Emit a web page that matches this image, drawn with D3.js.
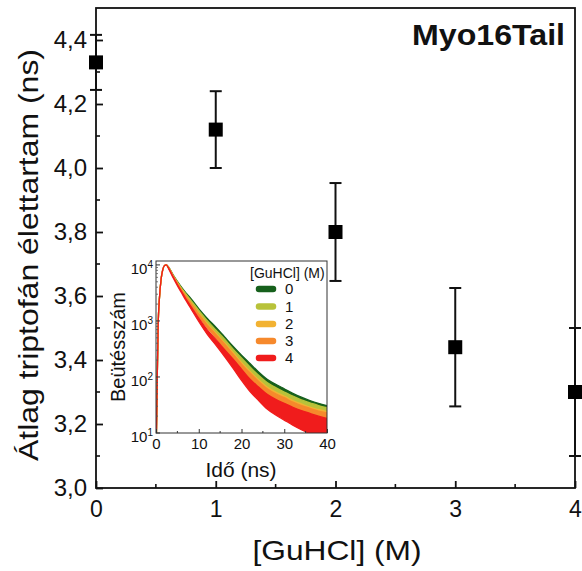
<!DOCTYPE html>
<html>
<head>
<meta charset="utf-8">
<script src="https://cdn.jsdelivr.net/npm/d3@7"></script>
<style>
  html, body { margin: 0; padding: 0; background: #ffffff; }
  svg { display: block; }
  text { font-family: "Liberation Sans", Arial, Helvetica, sans-serif; fill: #111; }
</style>
</head>
<body>
<div id="chart"></div>
<script>
// ---------------- Main chart data ----------------
const guhclConc = [0, 1, 2, 3, 4];                  // [GuHCl] (M)
const avgLifetime = [4.33, 4.12, 3.80, 3.44, 3.30]; // ns
const lifetimeErr = [0.086, 0.12, 0.153, 0.185, 0.20];
const yTickValues = [3.0, 3.2, 3.4, 3.6, 3.8, 4.0, 4.2, 4.4];
const yMinorTicks = [3.1, 3.3, 3.5, 3.7, 3.9, 4.1, 4.3];
const xTickValues = [0, 1, 2, 3, 4];
const xMinorTicks = [0.5, 1.5, 2.5, 3.5];

// ---------------- Inset data (log10 counts) ----------------
const decayTime = [0.1, 0.3, 0.5, 0.8, 1.2, 1.6, 2.0, 2.4, 3, 4, 5, 6, 7, 8, 10, 12, 14, 16, 18, 20, 22, 24, 26, 28, 30, 32, 34, 36, 38, 40];
const logCounts0 = [1.0, 2.0, 2.9, 3.4, 3.75, 3.92, 3.99, 4.0, 3.95, 3.82, 3.70, 3.59, 3.49, 3.40, 3.20, 3.02, 2.86, 2.68, 2.50, 2.33, 2.17, 2.01, 1.87, 1.77, 1.68, 1.59, 1.51, 1.44, 1.38, 1.33];
const logCounts1 = [1.0, 2.0, 2.9, 3.4, 3.75, 3.92, 3.99, 4.0, 3.95, 3.81, 3.69, 3.57, 3.47, 3.37, 3.17, 2.98, 2.81, 2.64, 2.45, 2.28, 2.11, 1.95, 1.81, 1.71, 1.62, 1.54, 1.46, 1.40, 1.34, 1.29];
const logCounts2 = [1.0, 2.0, 2.9, 3.4, 3.75, 3.92, 3.99, 4.0, 3.94, 3.80, 3.67, 3.55, 3.44, 3.33, 3.12, 2.92, 2.75, 2.57, 2.39, 2.20, 2.03, 1.87, 1.73, 1.63, 1.55, 1.46, 1.39, 1.32, 1.27, 1.22];
const logCounts3 = [1.0, 2.0, 2.9, 3.4, 3.75, 3.92, 3.99, 4.0, 3.94, 3.80, 3.67, 3.54, 3.43, 3.32, 3.10, 2.90, 2.73, 2.55, 2.36, 2.17, 2.00, 1.84, 1.70, 1.60, 1.52, 1.43, 1.36, 1.30, 1.24, 1.20];
const logCounts4 = [1.0, 2.0, 2.9, 3.4, 3.75, 3.92, 3.99, 4.0, 3.93, 3.78, 3.64, 3.51, 3.38, 3.26, 3.02, 2.80, 2.62, 2.43, 2.24, 2.04, 1.85, 1.70, 1.56, 1.46, 1.38, 1.30, 1.23, 1.17, 1.12, 1.08];
// visible noise half-width of each trace (decades)
const noiseHalf    = [0, 0, 0, 0, 0, 0, 0, 0, 0.005, 0.005, 0.008, 0.01, 0.012, 0.015, 0.02, 0.025, 0.03, 0.04, 0.05, 0.06, 0.07, 0.08, 0.09, 0.10, 0.11, 0.12, 0.13, 0.14, 0.15, 0.16];
const noiseHalfRed = [0, 0, 0, 0, 0, 0, 0, 0, 0.005, 0.008, 0.01, 0.012, 0.015, 0.02, 0.03, 0.04, 0.05, 0.06, 0.08, 0.10, 0.11, 0.12, 0.13, 0.14, 0.15, 0.16, 0.17, 0.18, 0.18, 0.18];
const seriesLabels = ["0", "1", "2", "3", "4"];
const seriesColors = ["#16601c", "#b8c23a", "#f2b232", "#f6892c", "#f01c1c"];
const insetXTicks = [0, 10, 20, 30, 40];
const insetXMinor = [5, 15, 25, 35];
const insetYDecades = [1, 2, 3, 4];

const W = 582, H = 571;
const svg = d3.select("#chart").append("svg").attr("width", W).attr("height", H);
svg.append("rect").attr("width", W).attr("height", H).attr("fill", "#fff");

// ---------------- Main scales ----------------
const x = d3.scaleLinear().domain([0, 4]).range([96, 575]);
const y = d3.scaleLinear().domain([3.0, 4.5]).range([488, 8]);
const fmtComma = v => d3.format(".1f")(v).replace(".", ",");

// frame
svg.append("rect").attr("x", 96).attr("y", 8).attr("width", 479).attr("height", 480)
  .attr("fill", "none").attr("stroke", "#111").attr("stroke-width", 1.8);

// y axis
const yAxis = d3.axisLeft(y).tickValues(yTickValues).tickFormat(fmtComma)
  .tickSizeInner(-7).tickSizeOuter(0).tickPadding(9);
const gy = svg.append("g").attr("transform", "translate(96,0)").call(yAxis);
gy.select(".domain").remove();
gy.selectAll(".tick line").attr("stroke", "#111").attr("stroke-width", 1.8);
gy.selectAll(".tick text").attr("font-size", 24).attr("fill", "#111")
  .style("font-family", '"Liberation Sans", Arial, sans-serif');
svg.append("g").selectAll("line").data(yMinorTicks).join("line")
  .attr("x1", 96).attr("x2", 100).attr("y1", d => y(d)).attr("y2", d => y(d))
  .attr("stroke", "#111").attr("stroke-width", 1.6);

// x axis
const xAxis = d3.axisBottom(x).tickValues(xTickValues).tickFormat(d3.format("d"))
  .tickSizeInner(-7).tickSizeOuter(0).tickPadding(13);
const gx = svg.append("g").attr("transform", "translate(0,488)").call(xAxis);
gx.select(".domain").remove();
gx.selectAll(".tick line").attr("stroke", "#111").attr("stroke-width", 1.8);
gx.selectAll(".tick text").attr("font-size", 23).attr("fill", "#111")
  .style("font-family", '"Liberation Sans", Arial, sans-serif');
svg.append("g").selectAll("line").data(xMinorTicks).join("line")
  .attr("x1", d => x(d)).attr("x2", d => x(d)).attr("y1", 488).attr("y2", 484)
  .attr("stroke", "#111").attr("stroke-width", 1.6);

// axis titles
svg.append("text").attr("x", 337).attr("y", 560).attr("text-anchor", "middle")
  .attr("font-size", 28).attr("textLength", 169).attr("lengthAdjust", "spacingAndGlyphs")
  .text("[GuHCl] (M)");
svg.append("text").attr("transform", "translate(38,255) rotate(-90)").attr("text-anchor", "middle")
  .attr("font-size", 28).attr("textLength", 412).attr("lengthAdjust", "spacingAndGlyphs")
  .text("Átlag triptofán élettartam (ns)");
svg.append("text").attr("x", 565).attr("y", 45).attr("text-anchor", "end")
  .attr("font-size", 30).attr("font-weight", "bold").attr("textLength", 153).attr("lengthAdjust", "spacingAndGlyphs")
  .text("Myo16Tail");

// ---------------- Inset ----------------
const ix = d3.scaleLinear().domain([0, 40]).range([156, 327]);
const iy = d3.scaleLog().domain([10, Math.pow(10, 4.07)]).range([433, 261]);

const inset = svg.append("g");
inset.append("rect").attr("x", 156).attr("y", 261).attr("width", 171).attr("height", 172).attr("fill", "#fff");
const defs = svg.append("defs");
defs.append("clipPath").attr("id", "insetClip").append("rect")
  .attr("x", 156).attr("y", 261).attr("width", 171).attr("height", 172);

const allSeries = [logCounts0, logCounts1, logCounts2, logCounts3, logCounts4];
const plotG = inset.append("g").attr("clip-path", "url(#insetClip)");
allSeries.forEach((s, si) => {
  const nz = si === 4 ? noiseHalfRed : noiseHalf;
  const pts = decayTime.map((t, i) => ({ t, lo: s[i] - nz[i], hi: s[i] + nz[i], mid: s[i] }));
  const area = d3.area().x(d => ix(d.t))
    .y0(d => iy(Math.pow(10, Math.max(0.9, d.lo))))
    .y1(d => iy(Math.pow(10, d.hi)))
    .curve(d3.curveMonotoneX);
  plotG.append("path").datum(pts).attr("d", area)
    .attr("fill", seriesColors[si]).attr("stroke", seriesColors[si]).attr("stroke-width", 1.3)
    .attr("stroke-linejoin", "round");
});

// inset frame
inset.append("rect").attr("x", 156).attr("y", 261).attr("width", 171).attr("height", 172)
  .attr("fill", "none").attr("stroke", "#333").attr("stroke-width", 1);

// inset x axis
const ixAxis = d3.axisBottom(ix).tickValues(insetXTicks).tickFormat(d3.format("d"))
  .tickSizeInner(-4).tickSizeOuter(0).tickPadding(5.5);
const gix = inset.append("g").attr("transform", "translate(0,433)").call(ixAxis);
gix.select(".domain").remove();
gix.selectAll(".tick line").attr("stroke", "#333");
gix.selectAll(".tick text").attr("font-size", 15).attr("fill", "#111")
  .style("font-family", '"Liberation Sans", Arial, sans-serif');
inset.append("g").selectAll("line").data(insetXMinor).join("line")
  .attr("x1", d => ix(d)).attr("x2", d => ix(d)).attr("y1", 433).attr("y2", 431)
  .attr("stroke", "#333");

// inset y axis (log)
inset.append("g").selectAll("line").data(insetYDecades).join("line")
  .attr("x1", 156).attr("x2", 160).attr("y1", d => iy(Math.pow(10, d))).attr("y2", d => iy(Math.pow(10, d)))
  .attr("stroke", "#333");
const minorLog = [];
[1, 2, 3].forEach(dec => [2, 3, 4, 5, 6, 7, 8, 9].forEach(m => minorLog.push(m * Math.pow(10, dec))));
inset.append("g").selectAll("line").data(minorLog).join("line")
  .attr("x1", 156).attr("x2", 158).attr("y1", d => iy(d)).attr("y2", d => iy(d))
  .attr("stroke", "#555").attr("stroke-width", 0.8);
const ylab = inset.append("g").selectAll("text").data(insetYDecades).join("text")
  .attr("x", 153).attr("y", d => iy(Math.pow(10, d)) + 9).attr("text-anchor", "end")
  .attr("font-size", 15);
ylab.append("tspan").text("10");
ylab.append("tspan").attr("font-size", 10).attr("dy", -6).text(d => d);

// inset titles
inset.append("text").attr("x", 241).attr("y", 477).attr("text-anchor", "middle")
  .attr("font-size", 21).text("Idő (ns)");
inset.append("text").attr("transform", "translate(125,347) rotate(-90)").attr("text-anchor", "middle")
  .attr("font-size", 20).text("Beütésszám");

// inset legend
inset.append("text").attr("x", 250).attr("y", 278).attr("font-size", 14).text("[GuHCl] (M)");
const legY = [289, 306.5, 324, 341, 358];
const leg = inset.append("g").selectAll("g").data(seriesLabels).join("g");
leg.append("line").attr("x1", 259).attr("x2", 273)
  .attr("y1", (d, i) => legY[i]).attr("y2", (d, i) => legY[i])
  .attr("stroke", (d, i) => seriesColors[i]).attr("stroke-width", 6.5).attr("stroke-linecap", "round");
leg.append("text").attr("x", 285).attr("y", (d, i) => legY[i] + 5.3).attr("font-size", 15).text(d => d);

// ---------------- Main data marks ----------------
const pts = guhclConc.map((c, i) => ({ c, v: avgLifetime[i], e: lifetimeErr[i] }));
const eb = svg.append("g").selectAll("g").data(pts).join("g");
eb.append("line").attr("x1", d => x(d.c)).attr("x2", d => x(d.c))
  .attr("y1", d => y(d.v + d.e)).attr("y2", d => y(d.v - d.e))
  .attr("stroke", "#111").attr("stroke-width", 2);
eb.append("line").attr("x1", d => x(d.c) - 6).attr("x2", d => x(d.c) + 6)
  .attr("y1", d => y(d.v + d.e)).attr("y2", d => y(d.v + d.e))
  .attr("stroke", "#111").attr("stroke-width", 2);
eb.append("line").attr("x1", d => x(d.c) - 6).attr("x2", d => x(d.c) + 6)
  .attr("y1", d => y(d.v - d.e)).attr("y2", d => y(d.v - d.e))
  .attr("stroke", "#111").attr("stroke-width", 2);
svg.append("g").selectAll("rect").data(pts).join("rect")
  .attr("x", d => x(d.c) - 7).attr("y", d => y(d.v) - 7)
  .attr("width", 14).attr("height", 14).attr("fill", "#000");
</script>
</body>
</html>
